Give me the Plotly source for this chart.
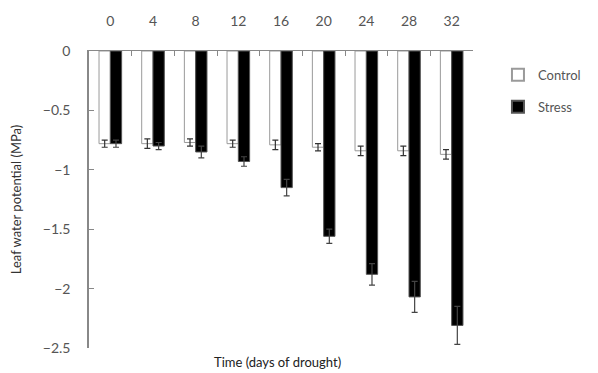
import plotly.graph_objects as go

days = ["0", "4", "8", "12", "16", "20", "24", "28", "32"]
control = [-0.78, -0.78, -0.77, -0.78, -0.79, -0.81, -0.84, -0.84, -0.87]
control_err = [0.03, 0.04, 0.03, 0.03, 0.04, 0.03, 0.04, 0.04, 0.04]
stress = [-0.78, -0.80, -0.85, -0.93, -1.15, -1.56, -1.88, -2.07, -2.31]
stress_err = [0.03, 0.03, 0.05, 0.04, 0.07, 0.06, 0.09, 0.13, 0.16]

fig = go.Figure()
fig.add_trace(go.Bar(
    x=days, y=control, name="Control", legendgroup="c",
    marker=dict(color="white", line=dict(color="#9a9a9a", width=1)),
    error_y=dict(type="data", array=control_err, color="#333333", thickness=1.2, width=3),
))
fig.add_trace(go.Bar(
    x=days, y=stress, name="Stress", legendgroup="s",
    marker=dict(color="black", line=dict(color="#555555", width=1)),
    error_y=dict(type="data", array=stress_err, color="#444444", thickness=1.2, width=3),
))

fig.update_layout(
    width=598, height=373,
    margin=dict(l=89, r=98, t=51, b=25),
    paper_bgcolor="white", plot_bgcolor="white",
    barmode="group", bargap=0.47, bargroupgap=0,
    font=dict(family="Lato", size=13, color="#555555"),
    showlegend=True,
    legend=dict(x=1.065, y=0.97, xanchor="left", yanchor="top",
                font=dict(size=13, color="#555555"), tracegroupgap=12,
                traceorder="grouped", itemsizing="constant", itemwidth=30),
    xaxis=dict(side="top", type="category", showline=True, linecolor="#888888",
               linewidth=1, ticks="inside", tickson="boundaries", ticklen=5,
               tickcolor="#888888", showgrid=False, tickfont=dict(size=14),
               ticklabelstandoff=18),
    yaxis=dict(range=[-2.5, 0], dtick=0.5, showline=True, linecolor="#888888",
               linewidth=1.5, ticks="inside", ticklen=5, tickcolor="#888888",
               showgrid=False, zeroline=False, tickfont=dict(size=14),
               ticklabelstandoff=14,
               title=dict(text="Leaf water potential (MPa)",
                          font=dict(size=13, color="#333333"), standoff=18)),
)
fig.add_annotation(text="Time (days of drought)", xref="paper", yref="paper",
                   x=0.49, y=-0.015, yanchor="top", showarrow=False,
                   font=dict(size=13, color="#222222"))

fig.write_html("out.html")
